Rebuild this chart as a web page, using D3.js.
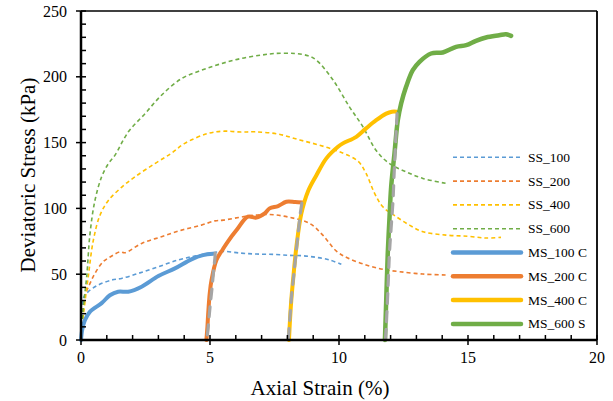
<!DOCTYPE html>
<html>
<head>
<meta charset="utf-8">
<script src="https://cdn.jsdelivr.net/npm/d3@7"></script>
<style>
  html, body { margin: 0; padding: 0; background: #fff; }
  svg { display: block; }
  text { font-family: "Liberation Serif", "Times New Roman", serif; fill: #000; }
</style>
</head>
<body>
<svg id="chart" width="613" height="401"></svg>
<script>
// ---------- data ----------
const xTicks = [0, 5, 10, 15, 20];
const yTicks = [0, 50, 100, 150, 200, 250];

const ss100X = [0, 0.09, 0.28, 0.67, 1.19, 1.57, 2.22, 3.0, 3.77, 4.41, 5.0, 5.51, 6.2, 6.8, 7.5, 8.09, 8.6, 9.12, 9.64, 10.09];
const ss100Y = [0, 31.7, 36.7, 41.8, 45.6, 46.8, 50.6, 55.7, 60.8, 63.8, 66, 67.3, 66, 65.3, 65, 64.3, 64, 62.8, 60.8, 57.5];

const ss200X = [0, 0.15, 0.35, 0.54, 0.86, 1.19, 1.51, 1.7, 2.35, 3.12, 3.9, 4.67, 5.19, 5.51, 6.54, 7.31, 8.09, 8.86, 9.38, 9.9, 10.34, 11.05, 11.7, 12.35, 13.25, 14.15];
const ss200Y = [0, 33, 43, 50.6, 59.5, 63.8, 67, 66.3, 73.4, 78.5, 83.5, 87.3, 90.5, 91.1, 94.4, 95.4, 93.2, 88.6, 79.5, 67.5, 62.3, 57, 53.7, 51.9, 50.1, 49.4];

const ss400X = [0, 0.1, 0.28, 0.48, 0.74, 1.06, 1.57, 2.09, 2.86, 3.51, 4.02, 4.93, 5.57, 6.2, 6.73, 7.64, 8.48, 9.25, 10.02, 10.73, 11.05, 11.38, 11.7, 12.22, 12.73, 13.25, 14.15, 15.0, 15.7, 16.28];
const ss400Y = [0, 20, 48, 76, 95, 106, 116, 124, 134, 142, 149.4, 157, 158.7, 158, 158.2, 156.5, 152, 148, 143, 136, 126.6, 111.4, 101.2, 93.7, 87.3, 82.3, 79.7, 78.8, 77.5, 78];

const ss600X = [0, 0.09, 0.22, 0.35, 0.54, 0.8, 1.06, 1.32, 1.83, 2.48, 3.12, 3.9, 4.67, 5.44, 6.22, 6.99, 7.51, 8.28, 8.8, 9.12, 9.77, 10.41, 10.93, 11.44, 11.96, 12.6, 13.25, 14.15];
const ss600Y = [0, 25, 48, 81, 106, 124, 134, 140.5, 158, 172, 186, 198.7, 205, 210, 214, 216.5, 217.7, 217.7, 216, 212.7, 197.5, 177, 162, 144, 134, 127.8, 122.8, 119];

const ms100X = [0, 0.05, 0.15, 0.35, 0.8, 1.12, 1.44, 1.83, 2.35, 3.0, 3.64, 4.28, 4.73, 5.12];
const ms100Y = [0, 8, 15, 21.5, 28, 34, 36.7, 36.7, 40.5, 48.6, 54.4, 61.3, 64.5, 65.5];

const ms200X = [4.86, 4.9, 4.93, 4.99, 5.06, 5.25, 5.5, 5.7, 6.03, 6.47, 6.8, 7.12, 7.31, 7.64, 7.96, 8.3, 8.57];
const ms200Y = [0, 10, 20, 35.5, 45.6, 60.8, 69, 75, 83.5, 93.7, 93, 96.2, 100, 101.8, 105, 104.8, 104.5];

const ms400X = [8.06, 8.1, 8.15, 8.22, 8.35, 8.54, 8.8, 9.12, 9.51, 9.96, 10.15, 10.67, 11.05, 11.44, 11.83, 12.05, 12.25];
const ms400Y = [0, 15, 30, 45.6, 71, 96, 113, 125, 138, 146.8, 149.4, 154.4, 160.8, 167, 172, 173.5, 173.5];

const ms600X = [11.78, 11.83, 11.89, 11.95, 12.02, 12.15, 12.28, 12.41, 12.6, 12.86, 13.12, 13.57, 14.02, 14.54, 14.93, 15.31, 15.7, 16.21, 16.47, 16.67];
const ms600Y = [0, 30, 66, 90, 116, 141.8, 167, 179.8, 192.4, 205, 211.4, 217.7, 218.5, 222.8, 224, 227.3, 229.9, 231.6, 232.4, 231.1];

const fit1X = [4.88, 4.93, 5.0, 5.08, 5.15, 5.19, 5.2];
const fit1Y = [0, 10, 25, 40, 55, 62, 66];
const fit2X = [8.03, 8.09, 8.17, 8.25, 8.33, 8.42, 8.5, 8.56];
const fit2Y = [0, 15, 35, 50, 65, 82, 96, 104];
const fit3X = [11.8, 11.83, 11.9, 11.96, 12.02, 12.09, 12.14, 12.19, 12.25];
const fit3Y = [0, 10, 40, 68, 85, 105, 128, 148, 172];

const seriesNames = ["SS_100", "SS_200", "SS_400", "SS_600", "MS_100 C", "MS_200 C", "MS_400 C", "MS_600 S"];
const seriesColors = ["#5B9BD5", "#ED7D31", "#FFC000", "#70AD47", "#5B9BD5", "#ED7D31", "#FFC000", "#70AD47"];
const seriesX = [ss100X, ss200X, ss400X, ss600X, ms100X, ms200X, ms400X, ms600X];
const seriesY = [ss100Y, ss200Y, ss400Y, ss600Y, ms100Y, ms200Y, ms400Y, ms600Y];
const fitX = [fit1X, fit2X, fit3X];
const fitY = [fit1Y, fit2Y, fit3Y];

// ---------- layout ----------
const svg = d3.select("#chart");
const L = 81, R = 597, T = 11, B = 340;
const x = d3.scaleLinear().domain([0, 20]).range([L, R]);
const y = d3.scaleLinear().domain([0, 250]).range([B, T]);

const zip = (xs, ys) => xs.map((v, i) => [v, ys[i]]);
const line = d3.line().x(d => x(d[0])).y(d => y(d[1])).curve(d3.curveCatmullRom.alpha(0.5));

// frame (top/right)
svg.append("line").attr("x1", L).attr("x2", R).attr("y1", T).attr("y2", T).attr("stroke", "#000").attr("stroke-width", 1.5);
svg.append("line").attr("x1", R).attr("x2", R).attr("y1", T).attr("y2", B).attr("stroke", "#000").attr("stroke-width", 1.8);

// SS curves (dashed)
for (let i = 0; i < 4; i++) {
  svg.append("path").datum(zip(seriesX[i], seriesY[i]))
    .attr("d", line).attr("fill", "none")
    .attr("stroke", seriesColors[i]).attr("stroke-width", 1.6)
    .attr("stroke-dasharray", "4,3");
}
// MS curves (solid)
for (let i = 4; i < 8; i++) {
  svg.append("path").datum(zip(seriesX[i], seriesY[i]))
    .attr("d", line).attr("fill", "none")
    .attr("stroke", seriesColors[i]).attr("stroke-width", i === 7 ? 4.5 : 4)
    .attr("stroke-linejoin", "round").attr("stroke-linecap", "round");
}
// grey fitted curves
for (let i = 0; i < 3; i++) {
  svg.append("path").datum(zip(fitX[i], fitY[i]).reverse())
    .attr("d", line).attr("fill", "none")
    .attr("stroke", "#A5A5A5").attr("stroke-width", 3.2)
    .attr("stroke-dasharray", "10,8").attr("stroke-linecap", "round");
}

// axes
const xAxisG = svg.append("g");
xAxisG.selectAll("line.minor").data(d3.range(0, 21, 1).filter(v => v % 5 !== 0)).join("line")
  .attr("x1", d => x(d)).attr("x2", d => x(d)).attr("y1", B).attr("y2", B - 5)
  .attr("stroke", "#000").attr("stroke-width", 1.5);
xAxisG.selectAll("line.major").data(xTicks).join("line")
  .attr("x1", d => x(d)).attr("x2", d => x(d)).attr("y1", B - 5).attr("y2", B + 5)
  .attr("stroke", "#000").attr("stroke-width", 1.5);
xAxisG.selectAll("text").data(xTicks).join("text")
  .attr("x", d => x(d)).attr("y", 363).attr("text-anchor", "middle")
  .attr("font-size", 16).text(d => d);

const yAxisG = svg.append("g");
yAxisG.selectAll("line.minor").data(d3.range(0, 251, 10).filter(v => v % 50 !== 0)).join("line")
  .attr("x1", L).attr("x2", L + 5).attr("y1", d => y(d)).attr("y2", d => y(d))
  .attr("stroke", "#000").attr("stroke-width", 1.5);
yAxisG.selectAll("line.major").data(yTicks).join("line")
  .attr("x1", L - 5).attr("x2", L + 5).attr("y1", d => y(d)).attr("y2", d => y(d))
  .attr("stroke", "#000").attr("stroke-width", 1.5);
yAxisG.selectAll("text").data(yTicks).join("text")
  .attr("x", 67).attr("y", d => y(d) + 5.5).attr("text-anchor", "end")
  .attr("font-size", 16).text(d => d);

// axis lines
svg.append("line").attr("x1", L).attr("x2", R).attr("y1", B).attr("y2", B).attr("stroke", "#000").attr("stroke-width", 2.5);
svg.append("line").attr("x1", L).attr("x2", L).attr("y1", T).attr("y2", B).attr("stroke", "#000").attr("stroke-width", 2.5);

// axis titles
svg.append("text").attr("x", 320).attr("y", 395).attr("text-anchor", "middle")
  .attr("font-size", 21).text("Axial Strain (%)");
svg.append("text").attr("transform", "translate(35,175) rotate(-90)").attr("text-anchor", "middle")
  .attr("font-size", 21).text("Deviatoric Stress (kPa)");

// legend
const legY0 = 157.3, legDy = 23.8;
const leg = svg.append("g");
seriesNames.forEach((name, i) => {
  const yy = legY0 + i * legDy;
  const ln = leg.append("line").attr("x1", 453).attr("x2", 521).attr("y1", yy).attr("y2", yy)
    .attr("stroke", seriesColors[i]);
  if (i < 4) ln.attr("stroke-width", 1.6).attr("stroke-dasharray", "4,3");
  else ln.attr("stroke-width", 4.5).attr("stroke-linecap", "round");
  leg.append("text").attr("x", 528).attr("y", yy + 4.5).attr("font-size", 13.5).text(name);
});
</script>
</body>
</html>
